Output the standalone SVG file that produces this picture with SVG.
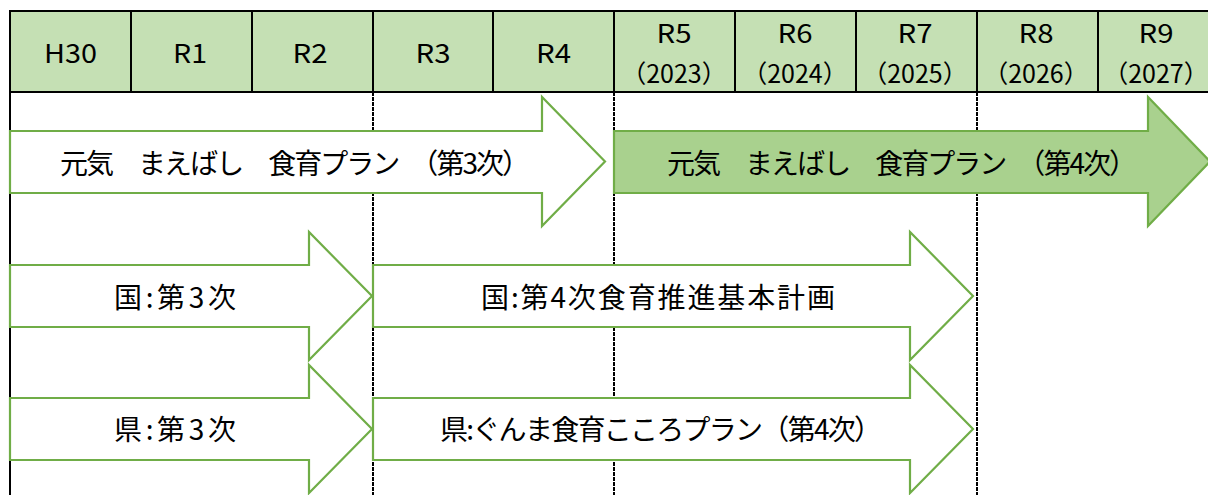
<svg xmlns="http://www.w3.org/2000/svg" width="1208" height="495" viewBox="0 0 1208 495">
<style>
.hd{font-family:"Noto Sans CJK JP","Liberation Sans",sans-serif;font-size:26px;fill:#000;text-anchor:middle}
.yr{font-family:"Noto Sans CJK JP",sans-serif;font-size:25px;fill:#000;text-anchor:middle}
.tx{font-family:"Noto Sans CJK JP",sans-serif;font-size:28px;fill:#000;text-anchor:middle}
.arr{fill:#fff;stroke:#70AD47;stroke-width:2.2;stroke-linejoin:miter}
.arrg{fill:#A9D18E;stroke:#70AD47;stroke-width:2.2}
.grid{stroke:#000;stroke-width:2;fill:none}
.dash{stroke:#000;stroke-width:2;stroke-dasharray:4 1;fill:none}
</style>
<rect width="1208" height="495" fill="#fff"/>
<g id="header">
<rect x="10" y="11" width="1220" height="81" fill="#C5E0B4" stroke="#000" stroke-width="2"/>
<path class="grid" d="M131,11V92M252,11V92M373,11V92M493,11V92M614,11V92M735,11V92M856,11V92M977,11V92M1098,11V92"/>
<text class="hd" x="70.5" y="63" textLength="53" lengthAdjust="spacingAndGlyphs">H30</text>
<text class="hd" x="190" y="63" textLength="34" lengthAdjust="spacingAndGlyphs">R1</text>
<text class="hd" x="310" y="63" textLength="35" lengthAdjust="spacingAndGlyphs">R2</text>
<text class="hd" x="433" y="63" textLength="35" lengthAdjust="spacingAndGlyphs">R3</text>
<text class="hd" x="553.5" y="63" textLength="35" lengthAdjust="spacingAndGlyphs">R4</text>
<text class="hd" x="674" y="43" textLength="35" lengthAdjust="spacingAndGlyphs">R5</text>
<text class="hd" x="795" y="43" textLength="35" lengthAdjust="spacingAndGlyphs">R6</text>
<text class="hd" x="915" y="43" textLength="35" lengthAdjust="spacingAndGlyphs">R7</text>
<text class="hd" x="1036" y="43" textLength="35" lengthAdjust="spacingAndGlyphs">R8</text>
<text class="hd" x="1156" y="43" textLength="35" lengthAdjust="spacingAndGlyphs">R9</text>
<text class="yr" x="674" y="83">（2023）</text>
<text class="yr" x="795" y="83">（2024）</text>
<text class="yr" x="915" y="83">（2025）</text>
<text class="yr" x="1036" y="83">（2026）</text>
<text class="yr" x="1156" y="83">（2027）</text>
</g>
<g id="gridlines">
<path class="grid" d="M10,92V495"/>
<path class="dash" d="M373,92V495M614,92V495M977,92V495"/>
</g>
<g id="connectors"></g>
<g id="plan3">
<path class="arr" d="M10,131H542V97L605,161.5L542,226V193H10Z"/>
<text class="tx" x="295" y="174" textLength="470" lengthAdjust="spacing">元気　まえばし　食育プラン　（第3次）</text>
</g>
<g id="plan4">
<path class="arrg" d="M614,131H1148V97L1210,161.5L1148,226V193H614Z"/>
<text class="tx" x="902" y="174" textLength="470" lengthAdjust="spacing">元気　まえばし　食育プラン　（第4次）</text>
</g>
<g id="kuni3">
<path class="arr" d="M10,265H309V232L372,296L309,360V327H10Z"/>
<text class="tx" x="175" y="308" textLength="122" lengthAdjust="spacing">国:第3次</text>
</g>
<g id="kuni4">
<path class="arr" d="M373,265H910V232L973,296L910,360V327H373Z"/>
<text class="tx" x="658" y="308" textLength="354" lengthAdjust="spacing">国:第4次食育推進基本計画</text>
</g>
<g id="ken3">
<path class="arr" d="M10,398H309V365L372,429L309,493V460H10Z"/>
<text class="tx" x="175" y="440" textLength="122" lengthAdjust="spacing">県:第3次</text>
</g>
<g id="ken4">
<path class="arr" d="M373,398H910V365L973,429L910,493V460H373Z"/>
<text class="tx" x="661" y="440" textLength="442" lengthAdjust="spacing">県:ぐんま食育こころプラン（第4次）</text>
</g>
</svg>
